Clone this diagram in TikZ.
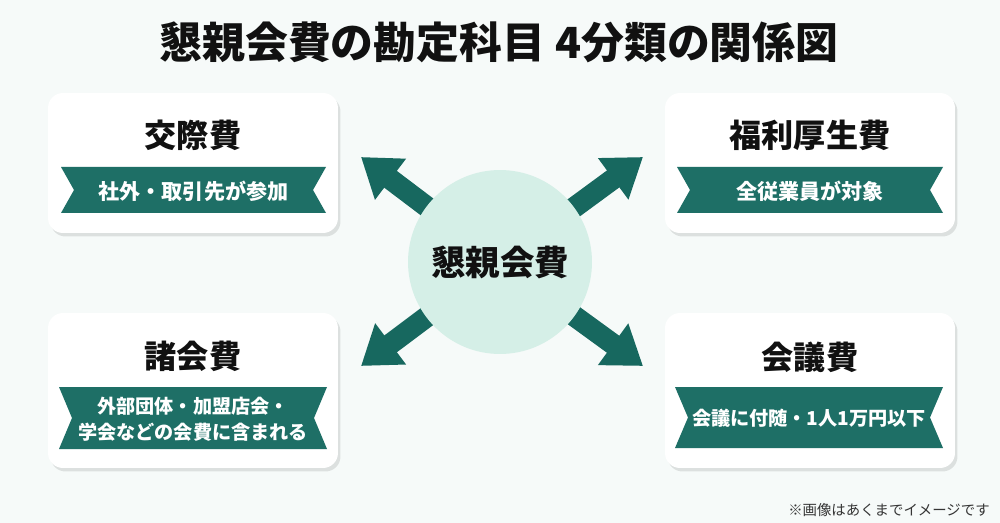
\documentclass[tikz,border=0pt]{standalone}
\usepackage{fontspec}
\setmainfont{Noto Sans CJK JP}
\usetikzlibrary{arrows.meta,shadows}
\definecolor{teal1}{HTML}{1E6F66}
\definecolor{tealarrow}{HTML}{17685F}
\definecolor{mint}{HTML}{D5EFE7}
\definecolor{bgc}{HTML}{F6FAF9}
\definecolor{ink}{HTML}{111111}
\pgfdeclarelayer{back}
\pgfdeclarelayer{mid}
\pgfsetlayers{back,mid,main}
\tikzset{
  card/.style={fill=white, rounded corners=0.3cm, inner sep=0pt,
    drop shadow={shadow xshift=0.05cm, shadow yshift=-0.07cm, opacity=0.10, fill=black}},
  cardtitle/.style={text=ink, font=\bfseries\fontsize{18.3}{22}\selectfont, inner sep=0pt},
  ribbontext/.style={text=white, font=\bfseries\fontsize{12}{14.7}\selectfont, align=center, inner sep=0pt},
  smallribbontext/.style={ribbontext, font=\bfseries\fontsize{10.9}{14.7}\selectfont},
  bigarrow/.style={tealarrow, line width=0.42cm, -{Triangle[width=0.98cm,length=0.74cm]}},
}
\newcommand\myribbon[4]{\fill[teal1] (#1,#3) -- (#2,#3) -- (#2-13,{(#3+#4)/2}) -- (#2,#4) -- (#1,#4) -- (#1+13,{(#3+#4)/2}) -- cycle;}
\begin{document}
\begin{tikzpicture}[x=0.02cm,y=-0.02cm]
\begin{pgfonlayer}{back}
\fill[bgc] (0,0) rectangle (1000,523);
\end{pgfonlayer}
\useasboundingbox (0,0) rectangle (1000,523);

% title
\node[text=ink, font=\bfseries\fontsize{24.4}{29}\selectfont] (title) at (499,42) {懇親会費の勘定科目 4分類の関係図};

% cards
\node[card, minimum width=5.8cm, minimum height=2.8cm] (c1) at (193,163) {};
\node[card, minimum width=5.8cm, minimum height=2.8cm] (c2) at (810,163) {};
\node[card, minimum width=5.8cm, minimum height=3.1cm] (c3) at (193,390.5) {};
\node[card, minimum width=5.8cm, minimum height=3.1cm] (c4) at (810,390.5) {};

% card titles
\node[cardtitle] (t1) at (193,135) {交際費};
\node[cardtitle] (t2) at (810,135) {福利厚生費};
\node[cardtitle] (t3) at (193,356) {諸会費};
\node[cardtitle] (t4) at (810,357) {会議費};

% ribbons
\myribbon{61}{326}{167}{213}
\myribbon{677}{943}{167}{213}
\myribbon{59}{327}{387}{449}
\myribbon{675}{943}{387}{448}
\node[ribbontext] (r1) at (193.5,191) {社外・取引先が参加};
\node[ribbontext] (r2) at (810,191) {全従業員が対象};
\node[smallribbontext] (r3) at (193,419) {外部団体・加盟店会・\\学会などの会費に含まれる};
\node[smallribbontext] (r4) at (809,418) {会議に付随・1人1万円以下};

% center
\node[circle, fill=mint, minimum size=3.68cm, inner sep=0pt, text=ink,
      font=\bfseries\fontsize{19.6}{23}\selectfont] (c) at (500,262) {懇親会費};

\coordinate (a1) at (361,157);
\coordinate (a2) at (643,157);
\coordinate (a3) at (361,366);
\coordinate (a4) at (643,366);
\begin{pgfonlayer}{mid}
\draw[bigarrow] (c.center) -- (a1);
\draw[bigarrow] (c.center) -- (a2);
\draw[bigarrow] (c.center) -- (a3);
\draw[bigarrow] (c.center) -- (a4);
\end{pgfonlayer}

% footnote
\node[anchor=east, text=ink!85, font=\fontsize{8.2}{10}\selectfont, inner sep=0pt] (note) at (990,510) {※画像はあくまでイメージです};
\end{tikzpicture}
\end{document}
